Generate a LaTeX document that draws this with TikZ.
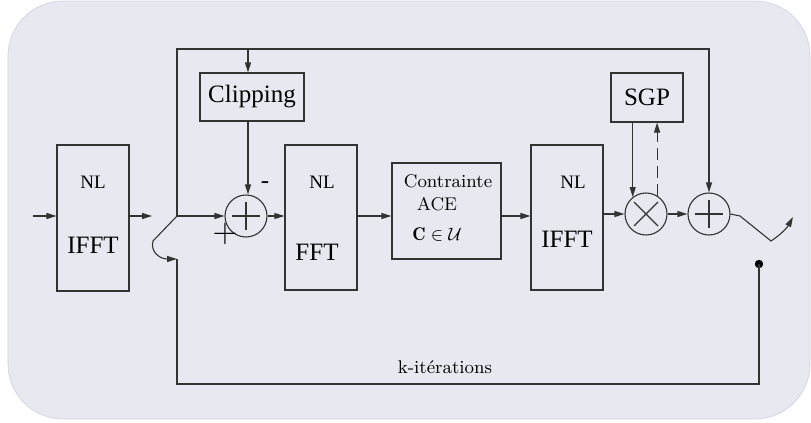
\documentclass[tikz,border=0pt]{standalone}
\usepackage{fontspec}
\newfontfamily\timesfont{Liberation Serif}
\usepackage{amsmath,amssymb}
\usepackage{xcolor}
\usetikzlibrary{arrows.meta,calc}
\definecolor{PanelFill}{HTML}{E8E8F0}
\definecolor{PanelEdge}{HTML}{D6D6E6}
\definecolor{WireGray}{HTML}{333333}

\tikzset{
  wire/.style={draw=WireGray, line width=0.55pt},
  sig/.style={wire, -{Triangle[length=5pt,width=3pt]}},
  blk/.style={wire, inner sep=0pt},
  summer/.style={wire, circle, inner sep=0pt, minimum size=21pt},
  nl/.style={font=\timesfont\fontsize{9.5}{11}\selectfont},
  big/.style={font=\timesfont\fontsize{12.5}{14}\selectfont},
  lmtext/.style={font=\fontsize{9.2}{11}\selectfont}
}

\begin{document}
\begin{tikzpicture}[x=0.5pt,y=-0.5pt]
  \useasboundingbox (0,0) rectangle (811,423);
  \fill[PanelFill, draw=PanelEdge, rounded corners=27.5pt] (8,1) rectangle (810,419);

  \node[blk, minimum width=36pt, minimum height=73pt] (ifftA) at (93,218) {};
  \node[blk, big, minimum width=52pt, minimum height=24pt] (clip) at (252,97) {Clipping};
  \node[blk, minimum width=36pt, minimum height=72.5pt] (fft) at (321,217.5) {};
  \node[blk, minimum width=54.5pt, minimum height=48pt] (ace) at (446.5,211) {};
  \node[blk, minimum width=36pt, minimum height=72.5pt] (ifftB) at (567,217.5) {};
  \node[blk, big, minimum width=36pt, minimum height=24.5pt] (sgp) at (647,97.5) {SGP};
  \node[summer] (sumA) at (246,216) {};
  \node[summer] (mul) at (646,214) {};
  \node[summer] (sumB) at (709,214) {};
  \node[circle, fill=black, inner sep=0pt, minimum size=4.2pt] (tap) at (759,264) {};

  \draw[wire] ($(sumA)+(-14,0)$) -- ($(sumA)+(14,0)$) ($(sumA)+(0,-14)$) -- ($(sumA)+(0,14)$);
  \draw[wire] ($(sumB)+(-14,0)$) -- ($(sumB)+(14,0)$) ($(sumB)+(0,-14)$) -- ($(sumB)+(0,14)$);
  \draw[wire] ($(mul)+(-12,-12)$) -- ($(mul)+(12,12)$) ($(mul)+(-12,12)$) -- ($(mul)+(12,-12)$);

  \node[nl] at (93,182) {NL};
  \node[big] at (93,245) {IFFT};
  \node[nl] at (322,182) {NL};
  \node[big] at (317,252) {FFT};
  \node[nl] at (573,182) {NL};
  \node[big] at (567,239) {IFFT};
  \node[lmtext] at (448,181) {Contrainte};
  \node[lmtext] at (437,204) {ACE};
  \node[lmtext] at (437,235) {$\mathbf{C}\in\mathcal{U}$};
  \node[big] at (265,185) {-};
  \node[font=\fontsize{17}{17}\selectfont] at (225,234) {$+$};
  \node[lmtext] at (445,367) {k-itérations};

  \coordinate (in) at (33,216);
  \coordinate (sw) at (152,216);
  \coordinate (j) at (177,216);
  \coordinate (jb) at (153,241);
  \coordinate (ret) at (177,259);
  \coordinate (tl) at (177,49);
  \coordinate (bl) at (177,384);
  \coordinate (o1) at (740,216);
  \coordinate (o2) at (771,241);
  \coordinate (out) at (793,217);

  \draw[sig] (in) -- (in -| ifftA.west);
  \draw[sig] (ifftA.east |- sw) -- (sw);
  \draw[wire] (j) -- (jb);
  \draw[sig] (jb) .. controls (150,252) and (160,259) .. (ret);
  \draw[sig] (j) -- (sumA.west);
  \draw[sig] (j) -- (tl) -| (sumB.north);
  \draw[sig] ([xshift=1pt]sumA.north |- tl) -- ([xshift=1pt]sumA.north |- clip.north);
  \draw[sig] ([xshift=1pt]sumA.north |- clip.south) -- ([xshift=1pt]sumA.north);
  \draw[sig] (sumA.east) -- (fft.west |- sumA);
  \draw[sig] (fft.east |- sumA) -- (ace.west |- sumA);
  \draw[sig] (ace.east |- sumA) -- (ifftB.west |- sumA);
  \draw[sig] (ifftB.east |- mul) -- (mul.west);
  \draw[sig] (mul.128 |- sgp.south) -- (mul.128);
  \draw[sig, dashed, dash pattern=on 6pt off 3pt] (mul.59) -- (mul.59 |- sgp.south);
  \draw[sig] (mul.east) -- (sumB.west);
  \draw[sig] (sumB.east) -- (o1) -- (o2) .. controls (779,236) and (787,228) .. (out);
  \draw[wire] (tap.center) |- (bl) -- (ret);
\end{tikzpicture}
\end{document}
